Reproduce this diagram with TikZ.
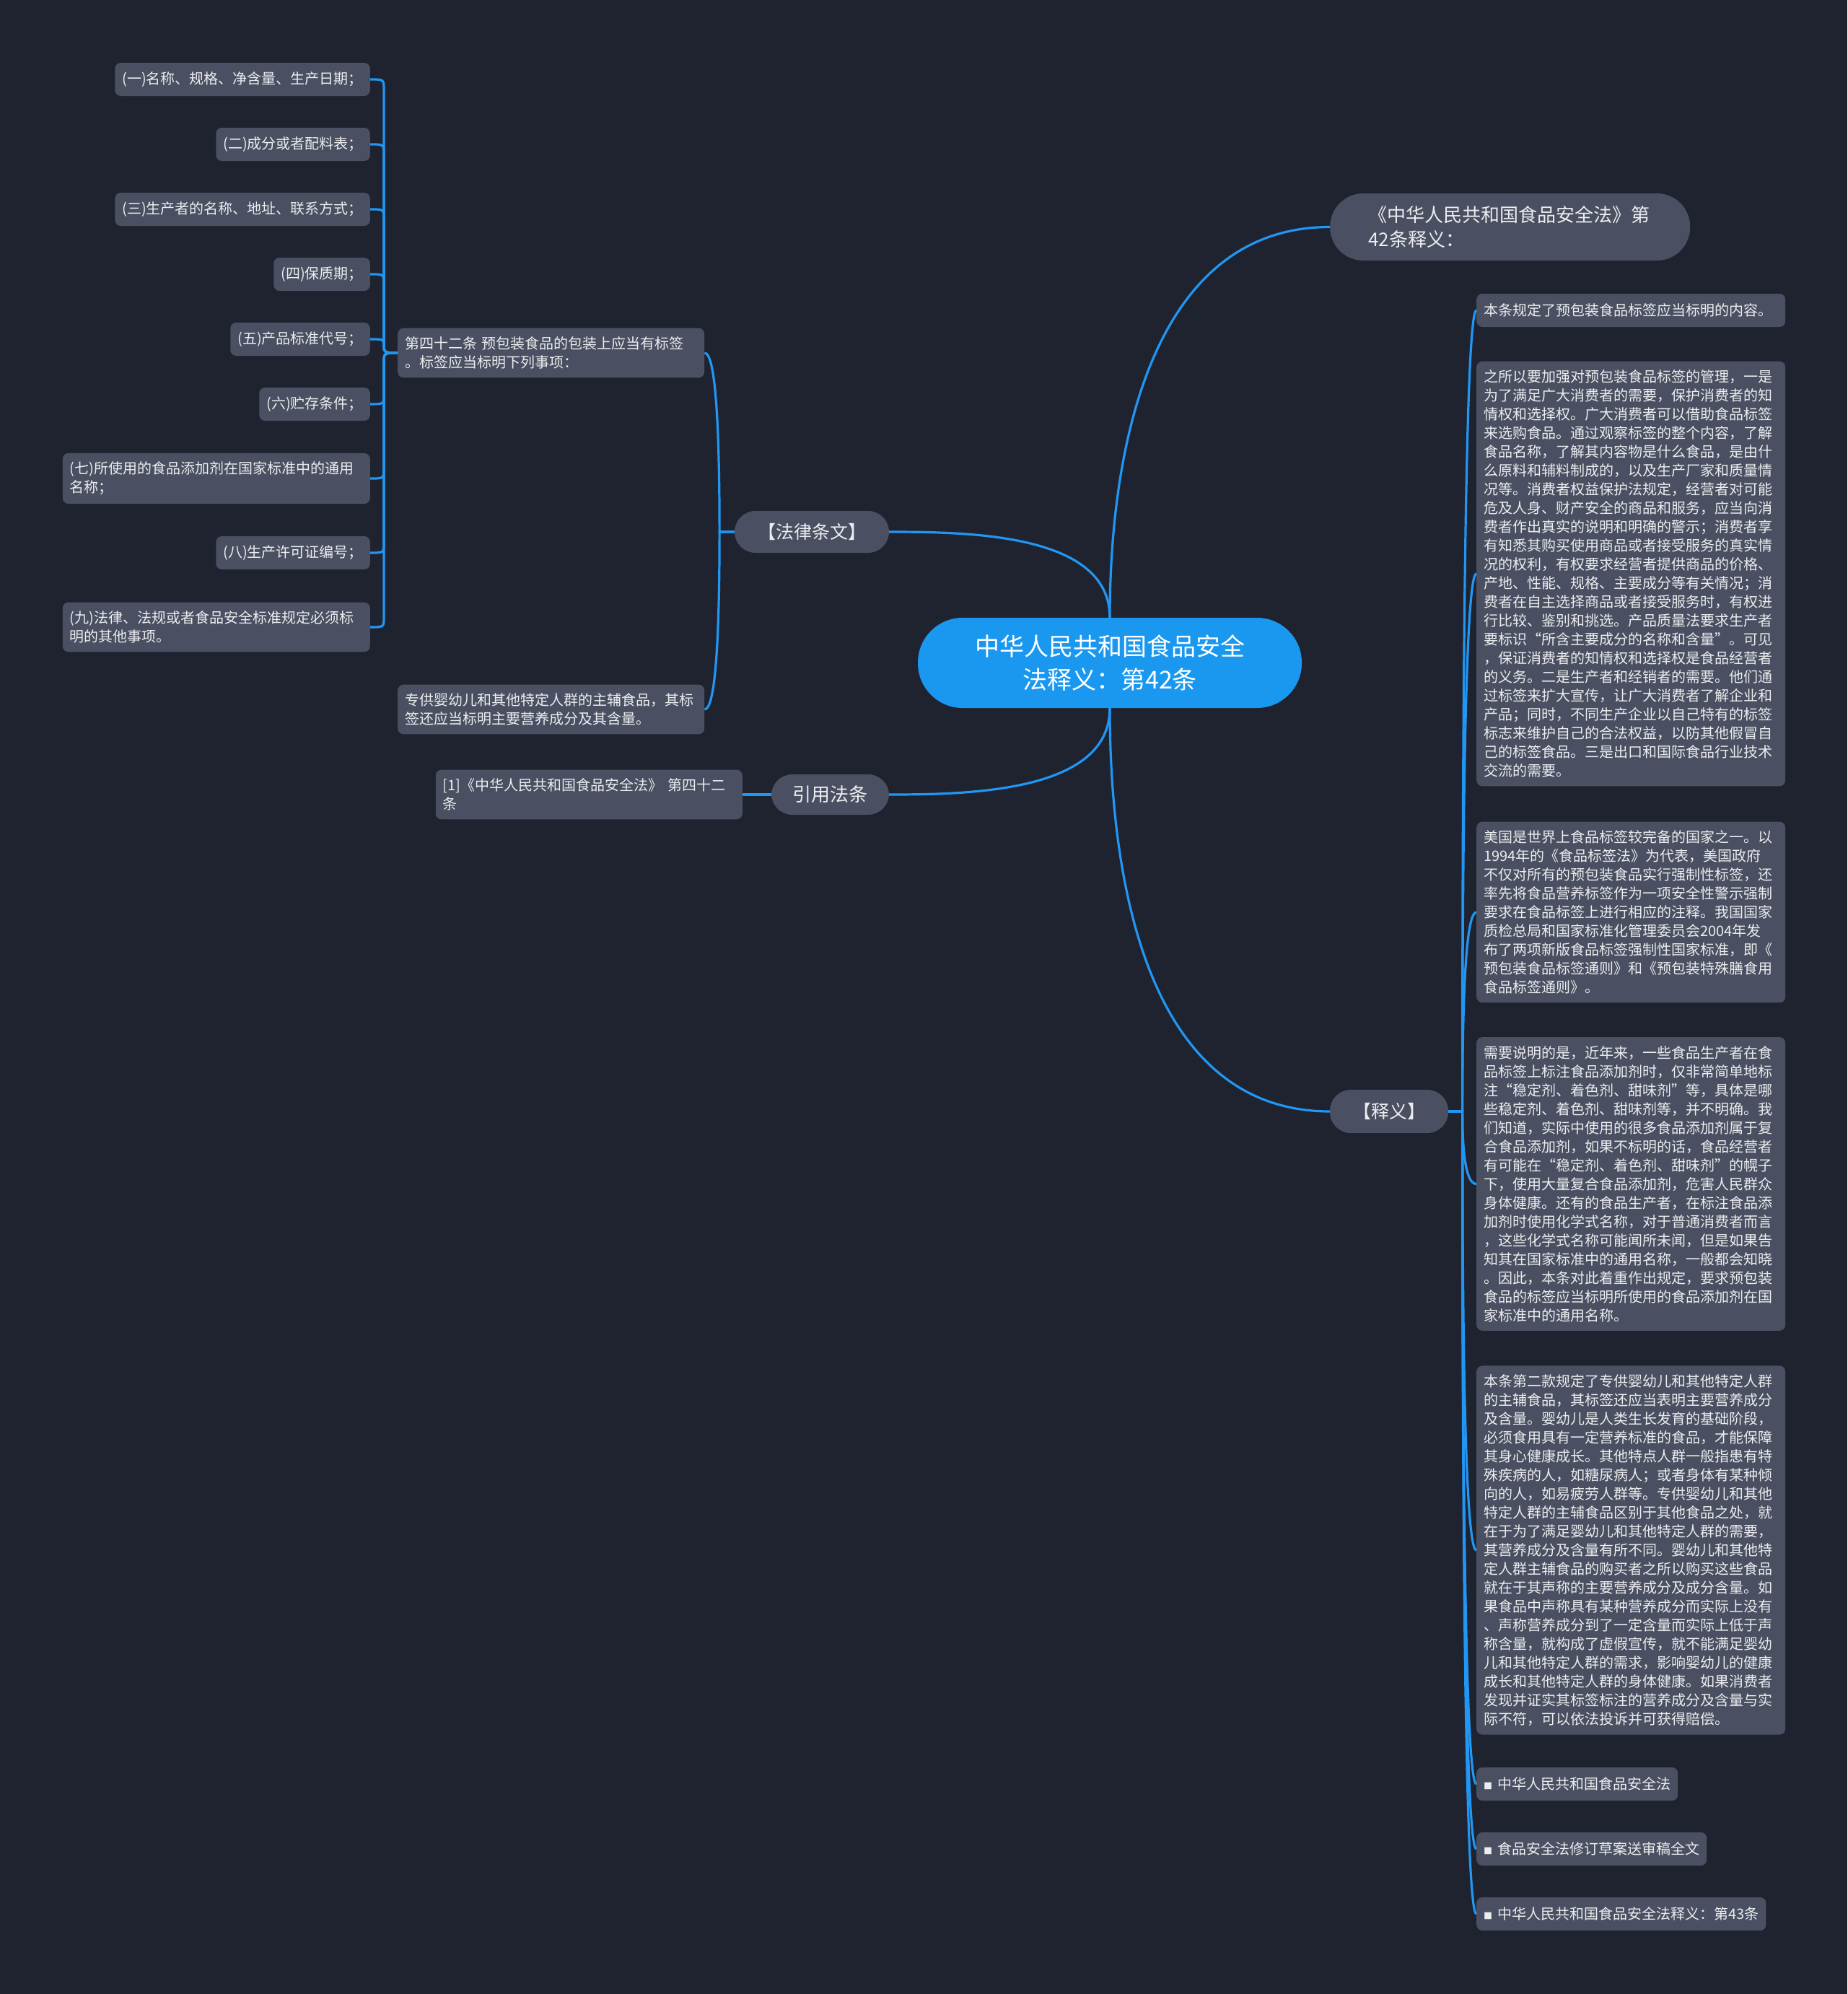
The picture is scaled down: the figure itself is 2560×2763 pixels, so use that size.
\documentclass[tikz,border=0pt]{standalone}
\usepackage{fontspec}
\setmainfont{Noto Sans CJK SC}
\usepackage{xcolor}
\usepackage{tikz}
\usetikzlibrary{calc,positioning}
\definecolor{bgnavy}{RGB}{31,35,48}
\definecolor{cardgray}{RGB}{74,80,97}
\definecolor{linkblue}{RGB}{33,150,243}
\definecolor{rootblue}{RGB}{26,152,240}
\definecolor{inkwhite}{RGB}{236,237,240}
\tikzset{
	card/.style={fill=cardgray, rounded corners=8pt, align=left, text=inkwhite,
		inner xsep=10pt, inner ysep=12pt, minimum height=46pt,
		font=\fontsize{20}{26}\selectfont},
	textcard/.style={card, text width=408pt},
	pill/.style={fill=cardgray, rounded corners=29pt, align=center, text=inkwhite,
		font=\fontsize{25}{32}\selectfont},
	link/.style={draw=linkblue, line width=3.2pt},
	elbow/.style={to path={let \p1=(\tikztostart), \p2=(\tikztotarget),
			\n1={(\x1+\x2)/2}, \n2={sign(\y2-\y1)*min(14,abs(\y2-\y1)/2)} in
			.. controls (\n1,\y1) .. (\n1,\y1+\n2) -- (\n1,\y2-\n2)
			.. controls (\n1,\y2) .. (\tikztotarget)}},
	sweep/.style={to path={let \p1=(\tikztostart), \p2=(\tikztotarget),
			\n1={(\x1+\x2)/2} in
			-- (\n1,\y1) .. controls (\n1,{\y1+2*(\y2-\y1)/3})
			and ({\n1+(\x2-\n1)/3},\y2) .. (\tikztotarget)}}
}

\begin{document}
\begin{tikzpicture}[x=1pt, y=1pt]
	\fill[bgnavy] (0,0) rectangle (2560,-2763);
	\useasboundingbox (0,0) rectangle (2560,-2763);
	
	%% ── Root topic (centre) ─────────────────────────────────────────
	\node[fill=rootblue, rounded corners=62pt, minimum width=532pt,
	minimum height=125pt, align=center, text=white,
	font=\fontsize{34}{46}\selectfont] (root) at (1538,-918.5)
	{中华人民共和国食品安全\\法释义：第42条};
	
	%% ── Main branches ──────────────────────────────────────────────
	\node[pill, rounded corners=46pt, text width=393pt, align=left,
	inner xsep=53pt, minimum height=93pt, font=\fontsize{26}{34}\selectfont,
	anchor=west] (heading) at (1843,-314.5)
	{《中华人民共和国食品安全法》第\\42条释义：};
	
	\node[pill, minimum width=214pt, minimum height=58pt] (law) at (1125,-737)
	{【法律条文】};
	
	\node[pill, minimum width=163pt, minimum height=56pt,
	font=\fontsize{26}{32}\selectfont] (cite) at (1150.5,-1101)
	{引用法条};
	
	\node[pill, minimum width=164pt, minimum height=60pt] (shiyi) at (1925,-1540)
	{【释义】};
	
	\draw[link] (root.north) to[out=90, in=180] (heading.west);
	\draw[link] (root.north) to[out=90, in=0, looseness=0.9] (law.east);
	\draw[link] (root.south) to[out=-90, in=0, looseness=0.9] (cite.east);
	\draw[link] (root.south) to[out=-90, in=180] (shiyi.west);
	
	%% ── Law text (left) ────────────────────────────────────────────
	\node[card, text width=405pt, anchor=west] (art) at (551,-489)
	{第四十二条 预包装食品的包装上应当有标签\\
		。标签应当标明下列事项：};
	
	\node[card, text width=405pt, anchor=west] (infant) at (551,-983)
	{专供婴幼儿和其他特定人群的主辅食品，其标\\
		签还应当标明主要营养成分及其含量。};
	
	\draw[link] (law.west) to[sweep] (art.east);
	\draw[link] (law.west) to[sweep] (infant.east);
	
	%% ── Label items (far left) ─────────────────────────────────────
	\node[card, anchor=east] (req1) at (513,-110) {(一)名称、规格、净含量、生产日期；};
	\node[card, anchor=east] (req2) at (513,-200) {(二)成分或者配料表；};
	\node[card, anchor=east] (req3) at (513,-290) {(三)生产者的名称、地址、联系方式；};
	\node[card, anchor=east] (req4) at (513,-380) {(四)保质期；};
	\node[card, anchor=east] (req5) at (513,-470) {(五)产品标准代号；};
	\node[card, anchor=east] (req6) at (513,-560) {(六)贮存条件；};
	\node[card, text width=406pt, anchor=east] (req7) at (513,-663)
	{(七)所使用的食品添加剂在国家标准中的通用\\名称；};
	\node[card, anchor=east] (req8) at (513,-766) {(八)生产许可证编号；};
	\node[card, text width=406pt, anchor=east] (req9) at (513,-869)
	{(九)法律、法规或者食品安全标准规定必须标\\明的其他事项。};
	
	\foreach \i in {1,...,9}
	\draw[link] (art.west) to[elbow] (req\i.east);
	
	%% ── Cited article ──────────────────────────────────────────────
	\node[card, text width=405pt, anchor=east] (citetext) at (1029,-1101)
	{[1]《中华人民共和国食品安全法》 第四十二\\条};
	
	\draw[link] (cite.west) -- (citetext.east);
	
	%% ── Commentary column (right) ──────────────────────────────────
	\node[textcard, anchor=west] (note1) at (2046,-430)
	{本条规定了预包装食品标签应当标明的内容。};
	
	\node[textcard, anchor=west] (note2) at (2046,-795)
	{之所以要加强对预包装食品标签的管理，一是\\
		为了满足广大消费者的需要，保护消费者的知\\
		情权和选择权。广大消费者可以借助食品标签\\
		来选购食品。通过观察标签的整个内容，了解\\
		食品名称，了解其内容物是什么食品，是由什\\
		么原料和辅料制成的，以及生产厂家和质量情\\
		况等。消费者权益保护法规定，经营者对可能\\
		危及人身、财产安全的商品和服务，应当向消\\
		费者作出真实的说明和明确的警示；消费者享\\
		有知悉其购买使用商品或者接受服务的真实情\\
		况的权利，有权要求经营者提供商品的价格、\\
		产地、性能、规格、主要成分等有关情况；消\\
		费者在自主选择商品或者接受服务时，有权进\\
		行比较、鉴别和挑选。产品质量法要求生产者\\
		要标识“所含主要成分的名称和含量”。可见\\
		，保证消费者的知情权和选择权是食品经营者\\
		的义务。二是生产者和经销者的需要。他们通\\
		过标签来扩大宣传，让广大消费者了解企业和\\
		产品；同时，不同生产企业以自己特有的标签\\
		标志来维护自己的合法权益，以防其他假冒自\\
		己的标签食品。三是出口和国际食品行业技术\\
		交流的需要。};
	
	\node[textcard, anchor=west] (note3) at (2046,-1264)
	{美国是世界上食品标签较完备的国家之一。以\\
		1994年的《食品标签法》为代表，美国政府\\
		不仅对所有的预包装食品实行强制性标签，还\\
		率先将食品营养标签作为一项安全性警示强制\\
		要求在食品标签上进行相应的注释。我国国家\\
		质检总局和国家标准化管理委员会2004年发\\
		布了两项新版食品标签强制性国家标准，即《\\
		预包装食品标签通则》和《预包装特殊膳食用\\
		食品标签通则》。};
	
	\node[textcard, anchor=west] (note4) at (2046,-1640.5)
	{需要说明的是，近年来，一些食品生产者在食\\
		品标签上标注食品添加剂时，仅非常简单地标\\
		注“稳定剂、着色剂、甜味剂”等，具体是哪\\
		些稳定剂、着色剂、甜味剂等，并不明确。我\\
		们知道，实际中使用的很多食品添加剂属于复\\
		合食品添加剂，如果不标明的话，食品经营者\\
		有可能在“稳定剂、着色剂、甜味剂”的幌子\\
		下，使用大量复合食品添加剂，危害人民群众\\
		身体健康。还有的食品生产者，在标注食品添\\
		加剂时使用化学式名称，对于普通消费者而言\\
		，这些化学式名称可能闻所未闻，但是如果告\\
		知其在国家标准中的通用名称，一般都会知晓\\
		。因此，本条对此着重作出规定，要求预包装\\
		食品的标签应当标明所使用的食品添加剂在国\\
		家标准中的通用名称。};
	
	\node[textcard, anchor=west] (note5) at (2046,-2148)
	{本条第二款规定了专供婴幼儿和其他特定人群\\
		的主辅食品，其标签还应当表明主要营养成分\\
		及含量。婴幼儿是人类生长发育的基础阶段，\\
		必须食用具有一定营养标准的食品，才能保障\\
		其身心健康成长。其他特点人群一般指患有特\\
		殊疾病的人，如糖尿病人；或者身体有某种倾\\
		向的人，如易疲劳人群等。专供婴幼儿和其他\\
		特定人群的主辅食品区别于其他食品之处，就\\
		在于为了满足婴幼儿和其他特定人群的需要，\\
		其营养成分及含量有所不同。婴幼儿和其他特\\
		定人群主辅食品的购买者之所以购买这些食品\\
		就在于其声称的主要营养成分及成分含量。如\\
		果食品中声称具有某种营养成分而实际上没有\\
		、声称营养成分到了一定含量而实际上低于声\\
		称含量，就构成了虚假宣传，就不能满足婴幼\\
		儿和其他特定人群的需求，影响婴幼儿的健康\\
		成长和其他特定人群的身体健康。如果消费者\\
		发现并证实其标签标注的营养成分及含量与实\\
		际不符，可以依法投诉并可获得赔偿。};
	
	%% ── Related links (bottom right) ───────────────────────────────
	\node[card, anchor=west] (ref1) at (2046,-2472)
	{{\fontsize{12}{12}\selectfont ■}\hspace{7pt}中华人民共和国食品安全法};
	\node[card, anchor=west] (ref2) at (2046,-2562)
	{{\fontsize{12}{12}\selectfont ■}\hspace{7pt}食品安全法修订草案送审稿全文};
	\node[card, anchor=west] (ref3) at (2046,-2652)
	{{\fontsize{12}{12}\selectfont ■}\hspace{7pt}中华人民共和国食品安全法释义：第43条};
	
	\foreach \kid in {note1,note2,note3,note4,note5,ref1,ref2,ref3}
	\draw[link] (shiyi.east) to[sweep] (\kid.west);
	
\end{tikzpicture}
\end{document}
